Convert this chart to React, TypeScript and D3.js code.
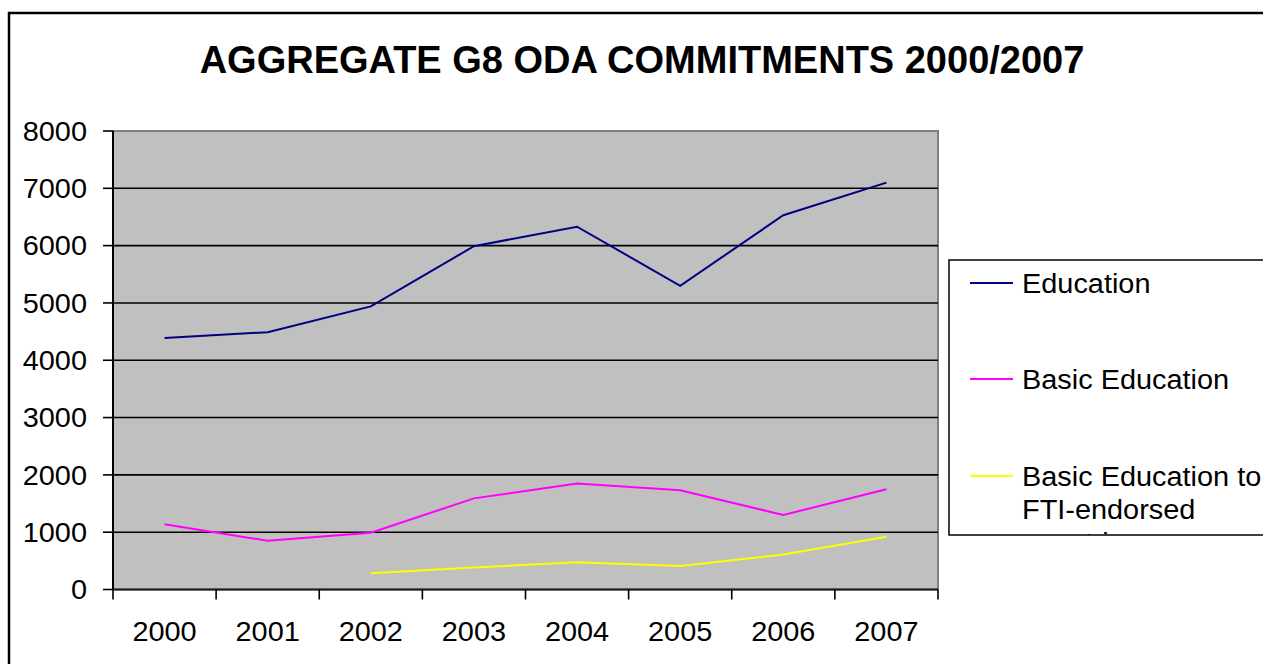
import { useMemo } from "react";
import * as d3 from "d3";

const years = ["2000", "2001", "2002", "2003", "2004", "2005", "2006", "2007"];
const education = [4390, 4490, 4940, 5990, 6330, 5300, 6530, 7100];
const basicEducation = [1140, 850, 990, 1590, 1850, 1730, 1300, 1750];
const ftiEndorsed = [null, null, 285, 385, 475, 410, 610, 920];
const yTicks = [0, 1000, 2000, 3000, 4000, 5000, 6000, 7000, 8000];
const seriesNames = ["Education", "Basic Education", "Basic Education to FTI-endorsed countries"];
const seriesColors = ["#000080", "#FF00FF", "#FFFF00"];

const W = 1263;
const H = 664;
const plot = { left: 113, right: 938, top: 131, bottom: 589.5 };
const font = "'Liberation Sans', Arial, sans-serif";
const stretch = 1.07; // the original text is a little wider than it is tall

const Label = ({ x, y, anchor = "start", children }: any) => (
  <text
    transform={`translate(${x},${y}) scale(${stretch},1)`}
    textAnchor={anchor}
    fontSize={27}
  >
    {children}
  </text>
);

export default function App() {
  const x = useMemo(
    () => d3.scaleBand<string>().domain(years).range([plot.left, plot.right]),
    []
  );
  const y = useMemo(
    () => d3.scaleLinear().domain([0, 8000]).range([plot.bottom, plot.top]),
    []
  );

  const line = d3
    .line<number | null>()
    .defined((d) => d != null)
    .x((_, i) => (x(years[i]) as number) + x.bandwidth() / 2)
    .y((d) => y(d as number));

  const series = [education, basicEducation, ftiEndorsed];
  const bounds = [...years.map((yr) => x(yr) as number), plot.right];

  // legend rows, third one wraps into 3 lines and gets clipped by the box
  const legendRows = [
    { y: 283, lines: ["Education"] },
    { y: 379, lines: ["Basic Education"] },
    { y: 476, lines: ["Basic Education to", "FTI-endorsed", "countries"] },
  ];

  return (
    <svg
      width={W}
      height={H}
      style={{ position: "absolute", left: 0, top: 0, background: "#fff" }}
      fontFamily={font}
    >
      <defs>
        <clipPath id="legendClip">
          <rect x={949} y={260} width={320} height={275} />
        </clipPath>
      </defs>
      {/* outer chart border */}
      <rect x={9} y={13} width={W + 20} height={H + 20} fill="#fff" stroke="#000" strokeWidth={2.5} />

      <text x={642} y={73} textAnchor="middle" fontSize={38} fontWeight="bold">
        AGGREGATE G8 ODA COMMITMENTS 2000/2007
      </text>

      {/* plot area */}
      <rect
        x={plot.left}
        y={plot.top}
        width={plot.right - plot.left}
        height={plot.bottom - plot.top}
        fill="#C0C0C0"
        stroke="#808080"
        strokeWidth={2}
      />
      {yTicks.slice(1, -1).map((t) => (
        <line key={t} x1={plot.left} x2={plot.right} y1={y(t)} y2={y(t)} stroke="#000" strokeWidth={1.6} />
      ))}

      {/* axes */}
      <line x1={plot.left} x2={plot.left} y1={plot.top} y2={plot.bottom} stroke="#000" strokeWidth={2} />
      <line x1={plot.left} x2={plot.right} y1={plot.bottom} y2={plot.bottom} stroke="#1a1a1a" strokeWidth={2} />
      {yTicks.map((t) => (
        <g key={t}>
          <line x1={plot.left - 10} x2={plot.left} y1={y(t)} y2={y(t)} stroke="#000" strokeWidth={1.6} />
          <Label x={87} y={y(t) + 9.7} anchor="end">
            {t}
          </Label>
        </g>
      ))}
      {bounds.map((b, i) => (
        <line key={i} x1={b} x2={b} y1={plot.bottom} y2={plot.bottom + 10} stroke="#000" strokeWidth={1.6} />
      ))}
      {years.map((yr) => (
        <Label key={yr} x={(x(yr) as number) + x.bandwidth() / 2} y={641} anchor="middle">
          {yr}
        </Label>
      ))}

      {series.map((s, i) => (
        <path key={i} d={line(s) || ""} fill="none" stroke={seriesColors[i]} strokeWidth={2} />
      ))}

      {/* legend */}
      <rect x={949} y={260} width={340} height={275} fill="#fff" stroke="#000" strokeWidth={1.5} />
      <g clipPath="url(#legendClip)">
        {legendRows.map((r, i) => (
          <g key={i}>
            <line x1={970} x2={1013} y1={r.y} y2={r.y} stroke={seriesColors[i]} strokeWidth={2} />
            {r.lines.map((l, j) => (
              <Label key={j} x={1022} y={r.y + 9.5 + j * 33}>
                {l}
              </Label>
            ))}
          </g>
        ))}
      </g>
    </svg>
  );
}
